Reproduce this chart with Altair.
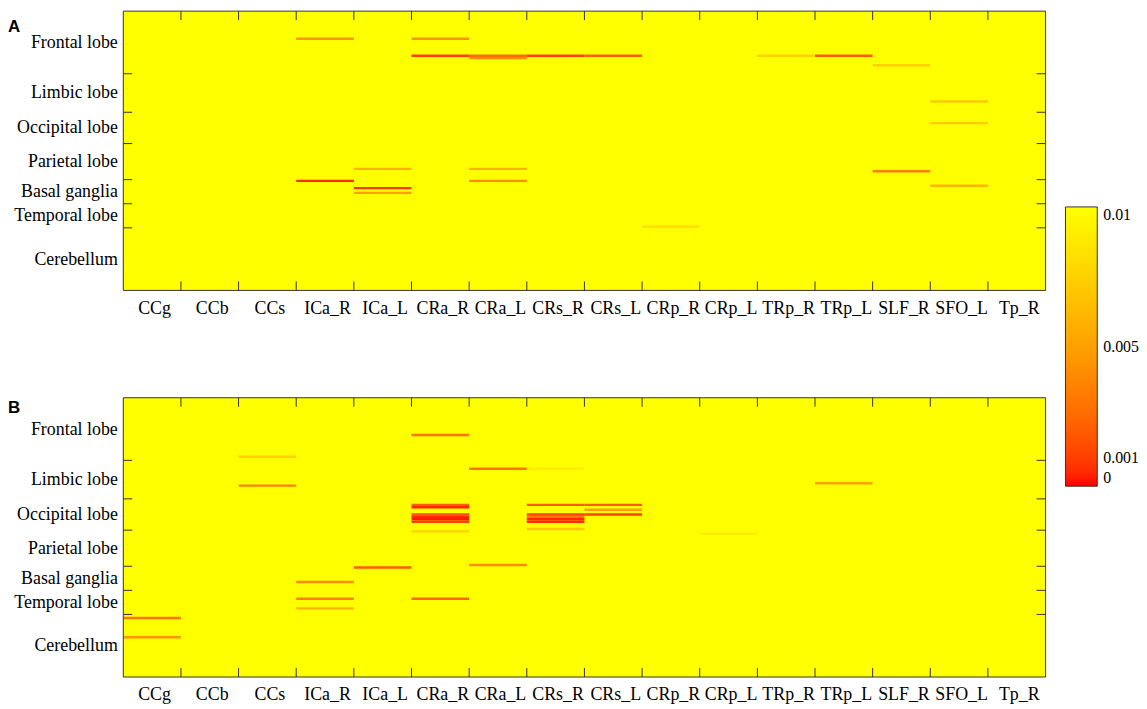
import json
import altair as alt
import pandas as pd

# ---------------- data ----------------
TRACTS = ["CCg", "CCb", "CCs", "ICa_R", "ICa_L", "CRa_R", "CRa_L", "CRs_R",
          "CRs_L", "CRp_R", "CRp_L", "TRp_R", "TRp_L", "SLF_R", "SFO_L", "Tp_R"]
LOBES = ["Frontal lobe", "Limbic lobe", "Occipital lobe", "Parietal lobe",
         "Basal ganglia", "Temporal lobe", "Cerebellum"]
LOBE_SIZES = [26, 16, 13, 15, 10, 10, 26]   # regions per lobe (116 in total)
P_MAX = 0.01
LEGEND_VALUES = [0, 0.001, 0.005, 0.01]

# Panel A: tract index, region index, p value
A_TRACT = [3, 5, 5, 6, 6, 7, 8, 11, 12, 13, 14, 14, 13, 14, 9, 4, 3, 4, 4, 6, 6]
A_REGION = [11, 11, 18, 18, 19, 18, 18, 18, 18, 22, 37, 46, 66, 72, 89, 65, 70, 73, 75, 65, 70]
A_P = [0.0045, 0.0045, 0.001, 0.0025, 0.004, 0.001, 0.002, 0.0075, 0.002, 0.0075,
       0.007, 0.007, 0.0035, 0.006, 0.008, 0.006, 0.0005, 0.0008, 0.005, 0.006, 0.004]

# Panel B
B_TRACT = [0, 0, 2, 2, 3, 3, 3, 4, 5, 5, 5, 5, 5, 5, 5, 5, 5, 6, 6, 7, 7, 8, 8, 8,
           7, 7, 7, 7, 7, 10, 12]
B_REGION = [91, 99, 24, 36, 76, 83, 87, 70, 15, 44, 45, 48, 49, 50, 51, 55, 83, 29, 69,
            29, 44, 44, 46, 48, 48, 49, 50, 51, 54, 56, 35]
B_P = [0.003, 0.0045, 0.0075, 0.0035, 0.004, 0.0035, 0.006, 0.002, 0.003, 0.002,
       0.0004, 0.0015, 0.0004, 0.0002, 0.001, 0.0075, 0.0025, 0.003, 0.004, 0.009,
       0.002, 0.002, 0.005, 0.001, 0.001, 0.003, 0.0004, 0.0005, 0.007, 0.009, 0.005]

# ---------------- derived ----------------
N_T = len(TRACTS)
N_R = sum(LOBE_SIZES)
LOBE_BOUNDS = []
acc = 0
for s in LOBE_SIZES[:-1]:
    acc += s
    LOBE_BOUNDS.append(acc)
CENTERS = []
acc = 0
for s in LOBE_SIZES:
    CENTERS.append(acc + s / 2)
    acc += s

W, H = 928, 281
TICK = 9
SERIF = "Liberation Serif"
DARK = "#333333"

xscale = alt.Scale(domain=[0, N_T], nice=False, zero=False)
yscale = alt.Scale(domain=[0, N_R], nice=False, zero=False, reverse=True)
cscale = alt.Scale(domain=[0, P_MAX], range=["#ff0000", "#ffff00"], clamp=True)

xaxis = alt.Axis(values=[i + 0.5 for i in range(N_T)],
                 labelExpr=f"{json.dumps(TRACTS)}[floor(datum.value)]",
                 ticks=False, domain=False, grid=False, labelFont=SERIF,
                 labelFontSize=18, labelColor="black", labelPadding=9,
                 labelOffset=2,
                 labelOverlap=False, labelFlush=False, labelAngle=0, title=None)
yaxis = alt.Axis(values=CENTERS,
                 labelExpr=f"{json.dumps(LOBES)}[indexof({json.dumps(CENTERS)}, datum.value)]",
                 ticks=False, domain=False, grid=False, labelFont=SERIF,
                 labelFontSize=18, labelColor="black", labelPadding=6,
                 labelOverlap=False, labelFlush=False, title=None)
legend = alt.Legend(orient="none", legendX=948, legendY=197, direction="vertical",
                    gradientLength=281, gradientThickness=32, values=LEGEND_VALUES,
                    labelExpr="format(datum.value, '~g')", title=None,
                    labelFont=SERIF, labelFontSize=16, labelColor="black",
                    labelOffset=6, gradientStrokeColor=DARK, gradientStrokeWidth=1)


def X(f):
    return alt.X(f, scale=xscale, axis=xaxis)


def Y(f):
    return alt.Y(f, scale=yscale, axis=yaxis)


def C(f):
    return alt.Color(f, scale=cscale, legend=legend)


def panel(letter, tr, rg, pv, letter_y):
    cells = pd.DataFrame({"t": tr, "r": rg, "p": pv})
    bg = pd.DataFrame({"t": [0], "r": [0], "t2": [N_T], "r2": [N_R], "p": [P_MAX]})
    bg_layer = alt.Chart(bg).mark_rect(strokeWidth=0).encode(
        x=X("t:Q"), x2="t2:Q", y=Y("r:Q"), y2="r2:Q", color=C("p:Q"))
    cell_layer = alt.Chart(cells).transform_calculate(
        t2="datum.t + 1", r2="datum.r + 1").mark_rect(strokeWidth=0).encode(
        x=X("t:Q"), x2="t2:Q", y=Y("r:Q"), y2="r2:Q", color=C("p:Q"))
    frame = alt.Chart(bg).mark_rect(fillOpacity=0, stroke=DARK, strokeWidth=1).encode(
        x=X("t:Q"), x2="t2:Q", y=Y("r:Q"), y2="r2:Q")
    xb = pd.DataFrame({"b": list(range(1, N_T))})
    yb = pd.DataFrame({"b": LOBE_BOUNDS})
    top = alt.Chart(xb).mark_rule(color=DARK, strokeWidth=1).encode(
        x=X("b:Q"), y=alt.value(0), y2=alt.value(TICK))
    bottom = alt.Chart(xb).mark_rule(color=DARK, strokeWidth=1).encode(
        x=X("b:Q"), y=alt.value(H), y2=alt.value(H - TICK))
    left = alt.Chart(yb).mark_rule(color=DARK, strokeWidth=1).encode(
        y=Y("b:Q"), x=alt.value(0), x2=alt.value(TICK))
    right = alt.Chart(yb).mark_rule(color=DARK, strokeWidth=1).encode(
        y=Y("b:Q"), x=alt.value(W), x2=alt.value(W - TICK))
    lab = alt.Chart(pd.DataFrame({"s": [letter]})).mark_text(
        font="Liberation Sans", fontWeight="bold", fontSize=17, align="left",
        baseline="alphabetic", color="black").encode(
        text="s:N", x=alt.value(-116), y=alt.value(letter_y))
    return alt.layer(bg_layer, cell_layer, frame, top, bottom, left, right, lab).properties(
        width=W, height=H)


pa = panel("A", A_TRACT, A_REGION, A_P, 21)
pb = panel("B", B_TRACT, B_REGION, B_P, 15)

chart = alt.vconcat(pa, pb, spacing=108, bounds="flush").resolve_scale(
    color="shared").properties(padding=0, background="white").configure_view(stroke=None)

chart.save("out.html", embed_options={"renderer": "svg", "actions": False})
